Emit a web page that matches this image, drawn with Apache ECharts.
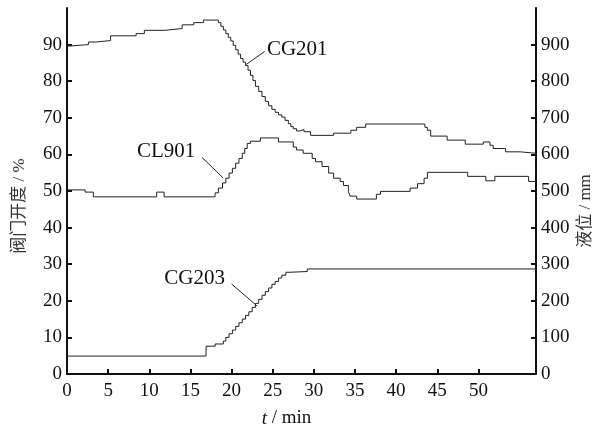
<!DOCTYPE html>
<html>
<head>
<meta charset="utf-8">
<script src="https://cdn.jsdelivr.net/npm/echarts@6/dist/echarts.min.js"></script>
<style>
  html, body { margin: 0; padding: 0; background: #fff; }
  #chart { width: 604px; height: 433px; }
</style>
</head>
<body>
<div id="chart"></div>
<script>
// 阀门开度 CG201 (%)，[t, 值]，阶梯
const cg201 = [
  [0, 89.6], [0.3, 90.0], [2.6, 90.7], [3.5, 91.1], [5.3, 92.4], [8.4, 93.0],
  [9.4, 93.9], [11.9, 94.4], [14.0, 95.4], [15.4, 96.0], [16.6, 96.7],
  [18.4, 96.0], [18.7, 95.0], [19.0, 94.0], [19.3, 93.0], [19.6, 92.0],
  [19.9, 91.0], [20.2, 89.8], [20.5, 88.6], [20.8, 87.4], [21.1, 86.2],
  [21.4, 85.2], [21.7, 84.3], [22.0, 83.0], [22.3, 81.6], [22.6, 80.2],
  [22.9, 78.6], [23.3, 77.2], [23.7, 75.8], [24.1, 74.5], [24.5, 73.3],
  [24.9, 72.3], [25.3, 71.5], [25.7, 70.8], [26.1, 70.2], [26.5, 69.3],
  [26.9, 68.4], [27.2, 67.6], [27.5, 67.0], [27.9, 66.4], [28.3, 66.8],
  [28.8, 66.2], [29.6, 65.2], [32.4, 65.8], [34.5, 66.6], [35.2, 67.4],
  [36.3, 68.3], [43.5, 67.4], [43.8, 66.6], [44.2, 65.0], [46.2, 63.9],
  [48.4, 62.8], [50.6, 63.4], [51.4, 62.5], [51.8, 61.6], [53.3, 60.7],
  [55.1, 60.3], [57, 60.3]
]
// 液位 CL901 (mm)
const cl901 = [
  [0, 503], [2.2, 497], [3.2, 484], [10.9, 497], [11.8, 484], [18.0, 495],
  [18.4, 508], [18.9, 522], [19.3, 535], [19.7, 549], [20.1, 562],
  [20.5, 576], [20.9, 589], [21.3, 603], [21.6, 616], [21.9, 630],
  [22.3, 636], [23.5, 645], [25.7, 634], [27.5, 620], [27.9, 612],
  [28.7, 603], [29.8, 589], [30.2, 580], [31.0, 567], [31.8, 549],
  [32.4, 535], [33.2, 526], [33.6, 515], [34.2, 499], [34.4, 486],
  [35.2, 478], [37.6, 491], [38.1, 499], [41.7, 508], [42.6, 520],
  [43.4, 535], [43.8, 551], [48.7, 540], [50.9, 528], [52.0, 540],
  [56.1, 526], [57, 526]
]
// 阀门开度 CG203 (%)
const cg203 = [
  [0, 4.9], [16.9, 7.6], [18.0, 8.2], [19.0, 9.0], [19.3, 10.0], [19.7, 11.0],
  [20.1, 12.0], [20.5, 13.0], [20.9, 14.0], [21.3, 15.0], [21.7, 16.0],
  [22.1, 17.0], [22.5, 18.2], [22.9, 19.3], [23.3, 20.4], [23.7, 21.5],
  [24.1, 22.5], [24.5, 23.5], [24.9, 24.5], [25.3, 25.3], [25.7, 26.2],
  [26.1, 27.0], [26.6, 27.8], [27.1, 28.0], [29.2, 28.7], [57, 28.7]
]

const xTicks = [0, 5, 10, 15, 20, 25, 30, 35, 40, 45, 50]
const leftTicks = [0, 10, 20, 30, 40, 50, 60, 70, 80, 90]
const rightTicks = [0, 100, 200, 300, 400, 500, 600, 700, 800, 900]

// 标注：文字位置和引线（数据坐标，左轴）
const notes = [
  { text: 'CG201', at: [24.3, 88.6], align: 'left', line: [[21.8, 84.6], [24.0, 88.1]] },
  { text: 'CL901', at: [15.6, 60.8], align: 'right', line: [[16.4, 59.2], [19.0, 53.5]] },
  { text: 'CG203', at: [19.2, 26.2], align: 'right', line: [[20.0, 24.6], [23.1, 18.6]] }
]

const serif = '"Liberation Serif", "Times New Roman", serif'
const cjk = '"Liberation Serif", "Noto Sans CJK SC", serif'

const chart = echarts.init(document.getElementById('chart'))

const axisCommon = {
  axisLine: { show: true, lineStyle: { color: '#111', width: 2 } },
  axisTick: { show: true, inside: true, length: 5, lineStyle: { color: '#111', width: 2 } },
  splitLine: { show: false }
}

const option = {
  animation: false,
  grid: { left: 67, right: 68, top: 8, bottom: 55 },
  xAxis: {
    type: 'value',
    min: 0,
    max: 57,
    ...axisCommon,
    axisTick: { ...axisCommon.axisTick, customValues: xTicks },
    axisLabel: { customValues: xTicks, color: '#111', fontSize: 19, fontFamily: serif, margin: 8 },
    name: '{i|t} / min',
    nameLocation: 'middle',
    nameGap: 35,
    nameTextStyle: {
      color: '#111', fontSize: 19, fontFamily: serif, padding: [0, 30, 0, 0],
      rich: { i: { fontStyle: 'italic', fontSize: 19, fontFamily: serif, color: '#111' } }
    }
  },
  yAxis: [
    {
      type: 'value',
      min: 0,
      max: 100,
      position: 'left',
      ...axisCommon,
      axisTick: { ...axisCommon.axisTick, customValues: leftTicks },
      axisLabel: { customValues: leftTicks, color: '#111', fontSize: 19, fontFamily: serif, margin: 5 },
      name: '阀门开度 / %',
      nameLocation: 'middle',
      nameRotate: 90,
      nameGap: 39,
      nameMoveOverlap: false,
      nameTextStyle: { color: '#333', fontSize: 17, fontFamily: cjk, padding: [0, 30, 0, 0] }
    },
    {
      type: 'value',
      min: 0,
      max: 1000,
      position: 'right',
      ...axisCommon,
      axisTick: { ...axisCommon.axisTick, customValues: rightTicks },
      axisLabel: { customValues: rightTicks, color: '#111', fontSize: 19, fontFamily: serif, margin: 5 },
      name: '液位 / mm',
      nameLocation: 'middle',
      nameRotate: 90,
      nameGap: 41,
      nameMoveOverlap: false,
      nameTextStyle: { color: '#333', fontSize: 17, fontFamily: cjk, padding: [0, 40, 0, 0] }
    }
  ],
  series: [
    {
      name: 'CG201', type: 'line', step: 'end', data: cg201, yAxisIndex: 0,
      symbol: 'none', lineStyle: { color: '#222', width: 1 }
    },
    {
      name: 'CL901', type: 'line', step: 'end', data: cl901, yAxisIndex: 1,
      symbol: 'none', lineStyle: { color: '#222', width: 1 }
    },
    {
      name: 'CG203', type: 'line', step: 'end', data: cg203, yAxisIndex: 0,
      symbol: 'none', lineStyle: { color: '#222', width: 1 }
    }
  ]
}

chart.setOption(option)

// 标注用 graphic，坐标由数据坐标换算
const toPx = (p) => chart.convertToPixel({ xAxisIndex: 0, yAxisIndex: 0 }, p)
const graphics = []
notes.forEach((n) => {
  const a = toPx(n.line[0])
  const b = toPx(n.line[1])
  const t = toPx(n.at)
  graphics.push({
    type: 'line',
    shape: { x1: a[0], y1: a[1], x2: b[0], y2: b[1] },
    style: { stroke: '#222', lineWidth: 1 }
  })
  graphics.push({
    type: 'text',
    x: t[0],
    y: t[1],
    style: {
      text: n.text, fill: '#111', font: '21px ' + serif,
      align: n.align, verticalAlign: 'middle'
    }
  })
})
chart.setOption({ graphic: graphics })
</script>
</body>
</html>
